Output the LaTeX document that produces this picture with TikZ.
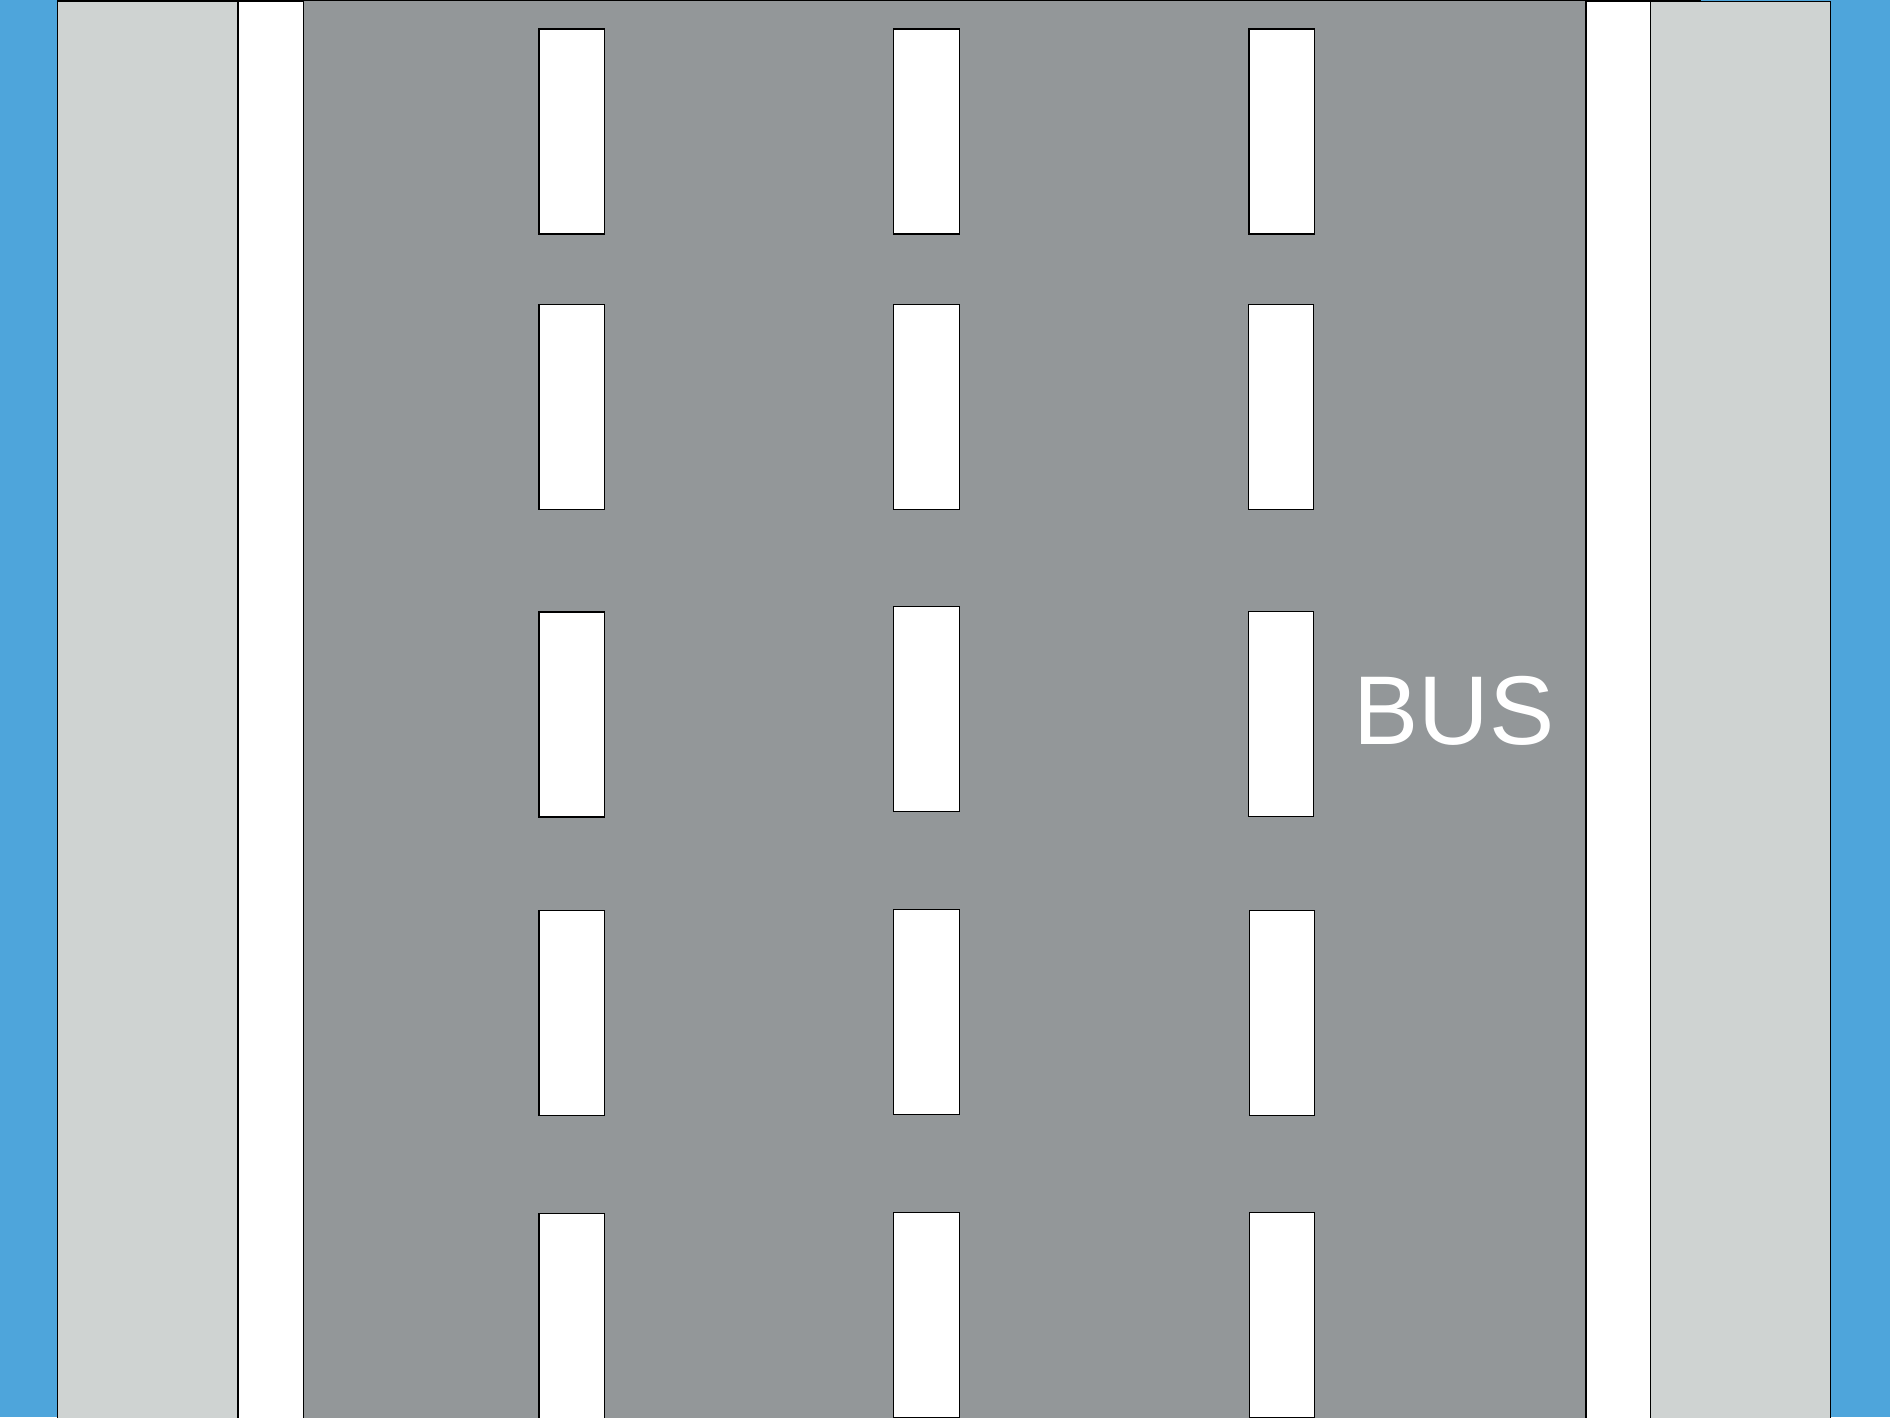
\documentclass[tikz,border=0pt]{standalone}
\usepackage{fontspec}
\setmainfont{Liberation Sans}
\usepackage{xcolor}
\definecolor{waterblue}{HTML}{4EA5DB}
\definecolor{pavement}{HTML}{CFD3D2}
\definecolor{asphalt}{HTML}{939799}
\tikzset{
  sidewalk/.style={fill=pavement, draw=black, line width=0.3pt},
  curbline/.style={fill=white, draw=black, line width=0.4pt},
  lanemark/.style={fill=white, draw=black, line width=0.3pt},
}
\begin{document}
\begin{tikzpicture}[x=0.01cm, y=-0.01cm]
					% canvas
					\useasboundingbox (0,0) rectangle (1890,1417);
					\clip (0,0) rectangle (1890,1417);
					\fill[waterblue] (0,0) rectangle (1890,1417);
					% sidewalks
					\draw[sidewalk] (57.5,1) rectangle (237.8,1430);
					\draw[sidewalk] (1650.3,1.3) rectangle (1830.3,1430);
					% road surface
					\fill[asphalt] (303.5,0) rectangle (1585.8,1430);
					\draw[line width=0.4pt] (57.5,0.6) -- (1701,0.6);
					% edge lines
					\draw[curbline] (237.8,1.5) rectangle (303.5,1430);
					\draw[curbline] (1585.8,1.5) rectangle (1650.3,1430);
					% lane markings
					\foreach \x/\y in {539/29, 539/304.3, 539/612, 539/910.4, 539/1213.5,
					                   893.8/29, 893.8/304.3, 893.8/606.1, 893.8/909.2, 893.8/1212.3,
					                   1249/29, 1248.5/304.3, 1248.5/611.1, 1249.5/910.4, 1249.5/1212.3}
						\draw[lanemark] (\x,\y) rectangle ++(65.4,205);
					% bus lane label
					\node[white, font=\fontsize{27.8}{30}\selectfont, anchor=base] (bus) at (1454,744.7) {BUS};
				\end{tikzpicture}
\end{document}
